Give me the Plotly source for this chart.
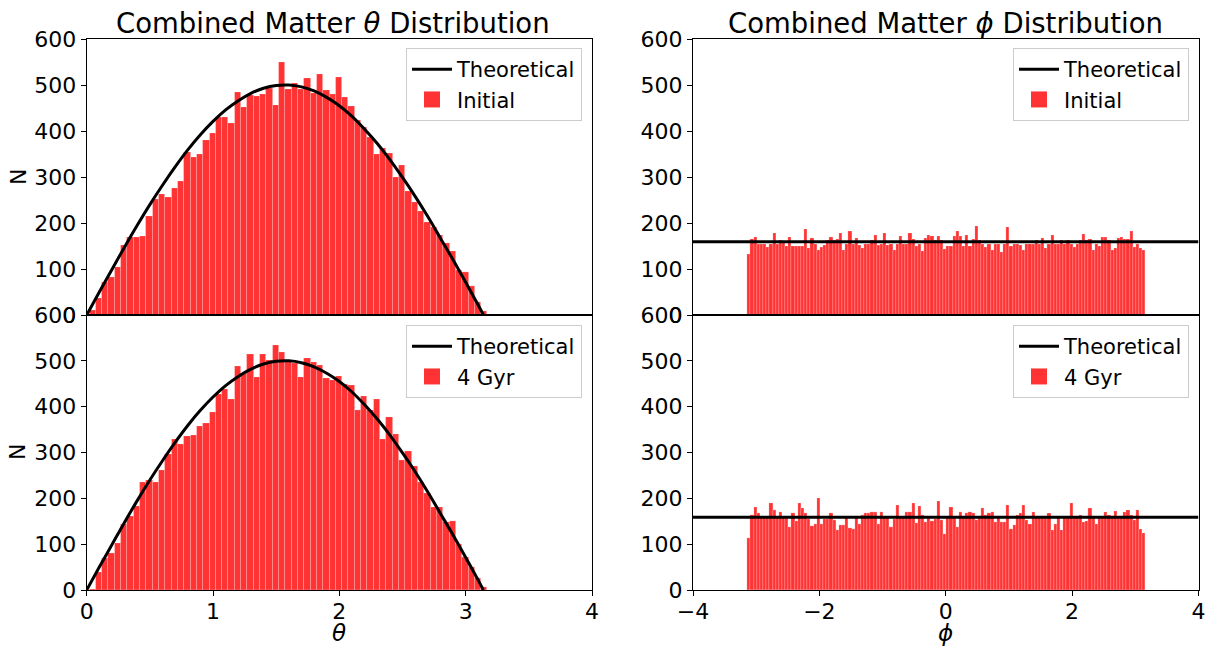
import numpy as np
import plotly.graph_objects as go

# ---------------- data ----------------
bin_width = 0.05
theta_bin_start = 0.02
phi_bin_start = -np.pi

theta_initial = [11, 36, 72, 83, 104, 152, 170, 170, 172, 215,
                 253, 263, 257, 276, 291, 354, 343, 350, 380, 396,
                 430, 430, 418, 485, 453, 478, 476, 480, 493, 457,
                 550, 491, 504, 491, 515, 482, 524, 489, 480, 518,
                 473, 454, 424, 408, 388, 351, 362, 353, 301, 326,
                 270, 246, 227, 203, 192, 174, 156, 139, 98, 94,
                 63, 29, 9]

theta_4gyr = [3, 40, 70, 81, 103, 144, 161, 184, 236, 241,
              236, 262, 297, 329, 319, 336, 338, 358, 364, 389,
              427, 438, 417, 489, 474, 515, 465, 515, 502, 535,
              519, 500, 495, 465, 506, 498, 491, 463, 458, 467,
              449, 447, 393, 423, 393, 417, 329, 377, 340, 284,
              303, 271, 236, 212, 181, 181, 148, 151, 100, 72,
              50, 27, 7]

phi_initial = [133,
               165, 170, 155, 155, 155, 148,
               155, 178, 155, 163, 157, 150, 169,
               150, 150, 150, 150, 187, 145,
               167, 155, 141, 147, 152, 163,
               169, 163, 165, 178, 141, 155,
               183, 155, 167, 153, 145, 155, 155,
               163, 174, 152, 155, 178, 152,
               155, 141, 155, 172, 155, 155,
               178, 165, 150, 154, 140, 167, 174,
               172, 163, 172, 163, 143, 150,
               150, 172, 183, 172, 150, 174,
               150, 165, 193, 163, 155, 148,
               155, 141, 155, 155, 137, 155, 191,
               150, 155, 154, 153, 141, 155,
               155, 155, 163, 155, 167, 145,
               155, 174, 155, 155, 163, 155,
               163, 155, 148, 155, 163, 176, 163,
               165, 141, 154, 150, 169, 169,
               163, 141, 145, 167, 169, 165,
               165, 183, 148, 155, 145, 141]

phi_4gyr = [114,
            164, 182, 167, 158, 158, 158,
            189, 175, 158, 171, 158, 158, 138,
            169, 151, 189, 180, 169, 156,
            140, 145, 200, 145, 156, 156,
            169, 153, 131, 142, 142, 158,
            136, 134, 158, 145, 164, 169, 167,
            171, 171, 145, 171, 158, 158,
            138, 156, 186, 158, 158, 171,
            171, 189, 147, 184, 164, 149, 158,
            151, 156, 195, 153, 123, 158,
            182, 158, 138, 171, 158, 167,
            171, 167, 153, 158, 178, 164,
            167, 171, 149, 158, 149, 149, 186,
            134, 142, 164, 167, 186, 153,
            145, 171, 158, 158, 158, 158,
            167, 131, 145, 158, 131, 158,
            158, 189, 158, 158, 164, 149, 151,
            180, 158, 145, 158, 158, 171,
            164, 158, 173, 158, 158, 171,
            175, 164, 153, 175, 134, 125]

# theoretical curves
theory_theta = [0.0, 0.1, 0.2, 0.3, 0.4, 0.5, 0.6, 0.7, 0.8, 0.9, 1.0,
                1.1, 1.2, 1.3, 1.4, 1.5, 1.6, 1.7, 1.8, 1.9, 2.0, 2.1,
                2.2, 2.3, 2.4, 2.5, 2.6, 2.7, 2.8, 2.9, 3.0, 3.1, 3.14]
theory_theta_N = [0, 50, 99, 148, 195, 240, 282, 322, 359, 392, 421,
                  446, 466, 482, 493, 499, 500, 496, 487, 473, 455, 432,
                  404, 373, 338, 299, 258, 214, 167, 120, 71, 21, 0]
theory_phi = [-4, 4]
theory_phi_N = [159, 159]

theta_ticks = [0, 1, 2, 3, 4]
phi_ticks = [-4, -2, 0, 2, 4]
n_ticks = [0, 100, 200, 300, 400, 500, 600]

# ---------------- figure ----------------
W, H = 1210, 647
RED = "#ff3333"
FONT = "DejaVu Sans"


def centers(start, n):
    return start + bin_width * (np.arange(n) + 0.5)


def px_x(p):
    return p / W


def px_y(p):
    return 1 - p / H


fig = go.Figure()

panels = [
    ("x", "y", "legend", theta_initial, theta_bin_start, theory_theta, theory_theta_N, "Initial"),
    ("x2", "y2", "legend2", phi_initial, phi_bin_start, theory_phi, theory_phi_N, "Initial"),
    ("x3", "y3", "legend3", theta_4gyr, theta_bin_start, theory_theta, theory_theta_N, "4 Gyr"),
    ("x4", "y4", "legend4", phi_4gyr, phi_bin_start, theory_phi, theory_phi_N, "4 Gyr"),
]

for xa, ya, lg, counts, start, tx, ty, label in panels:
    fig.add_trace(go.Bar(
        x=centers(start, len(counts)), y=counts, width=bin_width,
        marker=dict(color=RED, line=dict(color="white", width=0.2)),
        name=label, xaxis=xa, yaxis=ya, showlegend=False,
    ))
    fig.add_trace(go.Scatter(
        x=tx, y=ty, mode="lines", line=dict(color="black", width=3, shape="spline"),
        name="Theoretical", xaxis=xa, yaxis=ya, legend=lg, legendrank=1,
    ))
    # legend entry for the histogram (larger patch than the default bar icon)
    fig.add_trace(go.Scatter(
        x=[None], y=[None], mode="markers",
        marker=dict(symbol="square", size=16, color=RED),
        name=label, xaxis=xa, yaxis=ya, legend=lg, legendrank=2,
    ))

left_dom = [px_x(86.7), px_x(592)]
right_dom = [px_x(693), px_x(1198.5)]
top_dom = [px_y(315), px_y(39)]
bot_dom = [px_y(590), px_y(315)]

axis_common = dict(showline=True, linecolor="black", linewidth=1.2, mirror=True,
                   ticklen=5, tickwidth=1.2, tickcolor="black",
                   showgrid=False, zeroline=False, automargin=False,
                   tickfont=dict(family=FONT, size=22, color="black"))

fig.update_layout(
    width=W, height=H, margin=dict(l=0, r=0, t=0, b=0, pad=0, autoexpand=False),
    paper_bgcolor="white", plot_bgcolor="white",
    bargap=0, barmode="overlay",
    font=dict(family=FONT, size=22, color="black"),
    xaxis=dict(domain=left_dom, range=[0, 4], tickvals=theta_ticks, showticklabels=False,
               ticks="", anchor="y", **axis_common),
    xaxis2=dict(domain=right_dom, range=[-4, 4], tickvals=phi_ticks, showticklabels=False,
                ticks="", anchor="y2", **axis_common),
    xaxis3=dict(domain=left_dom, range=[0, 4], tickvals=theta_ticks, ticks="outside",
                ticklabelstandoff=-4, anchor="y3", **axis_common),
    xaxis4=dict(domain=right_dom, range=[-4, 4], tickvals=phi_ticks, ticks="outside",
                ticklabelstandoff=-4, anchor="y4", **axis_common),
    yaxis=dict(domain=top_dom, range=[0, 600], tickvals=n_ticks, ticks="outside",
               anchor="x", **axis_common),
    yaxis2=dict(domain=top_dom, range=[0, 600], tickvals=n_ticks, ticks="outside",
                anchor="x2", **axis_common),
    yaxis3=dict(domain=bot_dom, range=[0, 600], tickvals=n_ticks, ticks="outside",
                anchor="x3", **axis_common),
    yaxis4=dict(domain=bot_dom, range=[0, 600], tickvals=n_ticks, ticks="outside",
                anchor="x4", **axis_common),
)

legend_common = dict(bgcolor="rgba(255,255,255,0.8)", bordercolor="#cccccc", borderwidth=1,
                     font=dict(family=FONT, size=21, color="black"),
                     xanchor="right", yanchor="top", itemwidth=40, tracegroupgap=0)
fig.update_layout(
    legend=dict(x=px_x(582), y=px_y(48), **legend_common),
    legend2=dict(x=px_x(1189), y=px_y(48), **legend_common),
    legend3=dict(x=px_x(582), y=px_y(325), **legend_common),
    legend4=dict(x=px_x(1189), y=px_y(325), **legend_common),
)

annots = [
    dict(text="Combined Matter <i>θ</i> Distribution", x=px_x(333), y=px_y(23), size=27.5, angle=0),
    dict(text="Combined Matter <i>ϕ</i> Distribution", x=px_x(945.7), y=px_y(23), size=27.5, angle=0),
    dict(text="N", x=px_x(18), y=px_y(177), size=22, angle=-90),
    dict(text="N", x=px_x(18), y=px_y(452), size=22, angle=-90),
    dict(text="<i>θ</i>", x=px_x(339.3), y=px_y(633), size=23, angle=0),
    dict(text="<i>ϕ</i>", x=px_x(945.7), y=px_y(633), size=23, angle=0),
]
for a in annots:
    fig.add_annotation(text=a["text"], x=a["x"], y=a["y"], xref="paper", yref="paper",
                       xanchor="center", yanchor="middle", showarrow=False,
                       textangle=a["angle"], font=dict(family=FONT, size=a["size"], color="black"))

fig.write_html("out.html", config={"displayModeBar": False},
               post_script="document.body.style.margin='0px';")
